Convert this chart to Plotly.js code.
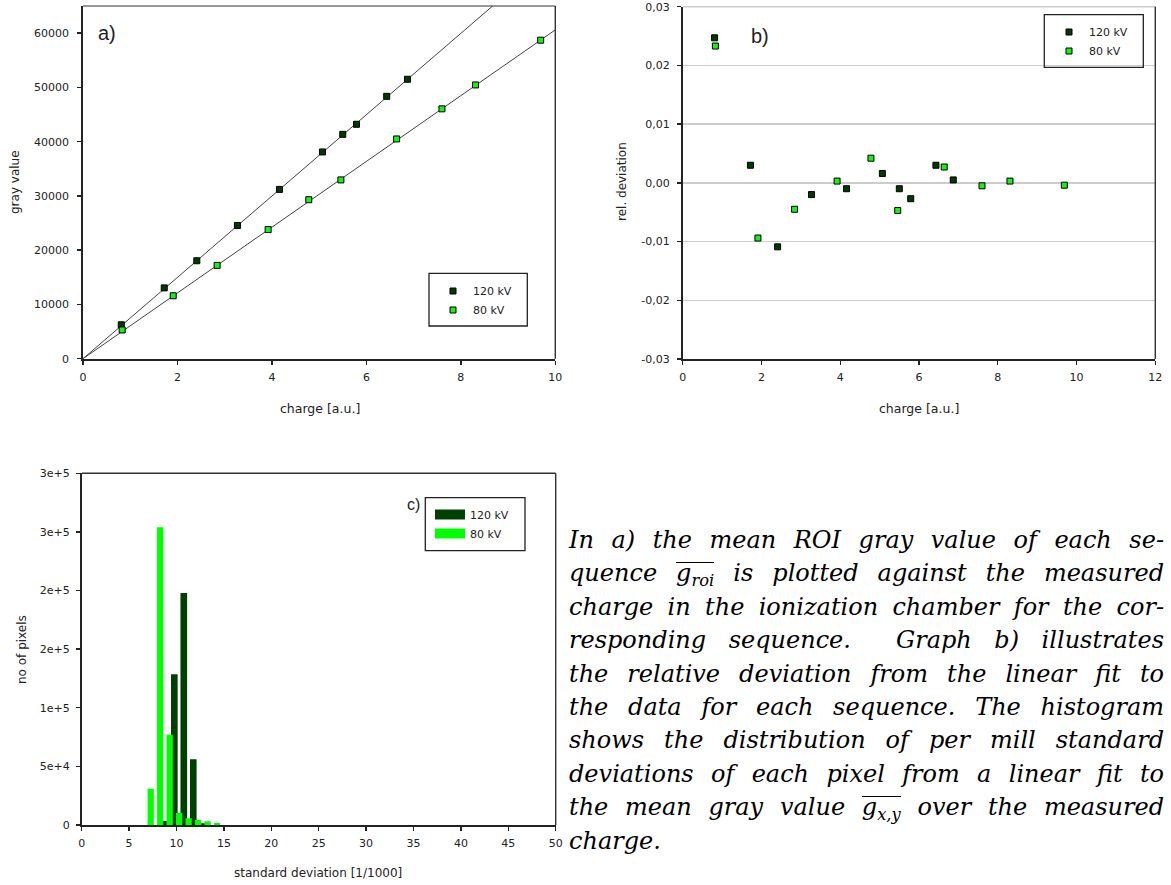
<!DOCTYPE html>
<html>
<head>
<meta charset="utf-8">
<script src="https://cdn.plot.ly/plotly-3.0.1.min.js"></script>
<style>
  html, body { margin: 0; padding: 0; background: #fff; }
  #wrap { position: relative; width: 1171px; height: 885px; }
  #chart { position: absolute; left: 0; top: 0; width: 1171px; height: 885px; }
  #caption {
    position: absolute; left: 569px; top: 524px; width: 595px;
    font-family: "DejaVu Serif", "Liberation Serif", serif;
    font-style: italic; font-size: 24px; line-height: 33.4px; color: #000;
  }
  #caption div { height: 33.4px; text-align: justify; text-align-last: justify; white-space: nowrap; }
  #caption div.last { text-align-last: left; }
  .ov { display: inline-block; line-height: 20px; border-top: 1.4px solid #000; padding-top: 0; }
  .ov sub { font-size: 0.68em; vertical-align: baseline; position: relative; top: 0.3em; line-height: 0; }
</style>
</head>
<body>
<div id="wrap">
  <div id="chart"></div>
  <div id="caption">
    <div>In a) the mean ROI gray value of each se-</div>
    <div>quence <span class="ov">g<sub>roi</sub></span> is plotted against the measured</div>
    <div>charge in the ionization chamber for the cor-</div>
    <div>responding sequence. &nbsp;Graph b) illustrates</div>
    <div>the relative deviation from the linear fit to</div>
    <div>the data for each sequence. The histogram</div>
    <div>shows the distribution of per mill standard</div>
    <div>deviations of each pixel from a linear fit to</div>
    <div>the mean gray value <span class="ov">g<sub>x,y</sub></span> over the measured</div>
    <div class="last">charge.</div>
  </div>
</div>
<script>
// ---- measured mean ROI gray values vs. charge ----
const charge120 = [0.81, 1.72, 2.41, 3.27, 4.16, 5.07, 5.50, 5.79, 6.43, 6.87];
const gray120   = [6250, 13050, 18050, 24550, 31200, 38100, 41350, 43200, 48350, 51500];
const charge80  = [0.83, 1.91, 2.84, 3.92, 4.78, 5.46, 6.64, 7.60, 8.31, 9.69];
const gray80    = [5300, 11600, 17200, 23800, 29300, 32950, 40500, 46050, 50450, 58700];

// slopes of the linear fits through the origin
const fitSlope120 = 7495;
const fitSlope80  = 6060;
const fitRange    = [0, 10];

// ---- relative deviation from the linear fit ----
const relDev120 = [0.0247, 0.0030, -0.0109, -0.0020, -0.0010, 0.0016, -0.0010, -0.0027, 0.0030, 0.0005];
const relDev80  = [0.0233, -0.0094, -0.0045, 0.0003, 0.0042, -0.0047, 0.0027, -0.0005, 0.0003, -0.0004];
const relDevTicks  = [-0.03, -0.02, -0.01, 0, 0.01, 0.02, 0.03];
const relDevLabels = ["-0,03", "-0,02", "-0,01", "0,00", "0,01", "0,02", "0,03"];

// ---- histogram of per-pixel standard deviations [1/1000] ----
const bins120   = [8, 9, 10, 11, 12];
const counts120 = [3400, 128600, 198000, 56000, 1500];
const bins80    = [7, 8, 9, 10, 11, 12, 13, 14];
const counts80  = [31000, 254000, 77000, 10200, 5700, 4300, 3200, 1700];
const pixelTicks  = [0, 50000, 100000, 150000, 200000, 250000, 300000];
const pixelLabels = ["0", "5e+4", "1e+5", "2e+5", "2e+5", "3e+5", "3e+5"];

const seriesNames = ["120 kV", "80 kV"];

// colours
const DARK = "#003a00", LIGHT = "#19f019", BAR_DARK = "#004000", BAR_LIGHT = "#00ff00";
const INK = "#222";

const W = 1171, H = 885;
const px = v => v / W;
const py = v => 1 - v / H;

const tickFont = { family: "DejaVu Sans, sans-serif", size: 11, color: INK };

function axisBase(extra) {
  return Object.assign({
    showline: true, linecolor: INK, linewidth: 1.8,
    ticks: "outside", ticklen: 4, tickwidth: 1.4, tickcolor: INK,
    showgrid: false, zeroline: false, tickfont: tickFont,
    fixedrange: true
  }, extra);
}

const markerStyle = color => ({ symbol: "square", size: 6, color: color, line: { color: "#000", width: 1 } });

const traces = [
  // a) fit lines
  { x: fitRange, y: fitRange.map(c => c * fitSlope120), mode: "lines", xaxis: "x", yaxis: "y",
    line: { color: "#444", width: 1 }, showlegend: false, hoverinfo: "skip" },
  { x: fitRange, y: fitRange.map(c => c * fitSlope80), mode: "lines", xaxis: "x", yaxis: "y",
    line: { color: "#444", width: 1 }, showlegend: false, hoverinfo: "skip" },
  // a) data
  { x: charge120, y: gray120, mode: "markers", name: seriesNames[0], xaxis: "x", yaxis: "y",
    marker: markerStyle(DARK), legend: "legend" },
  { x: charge80, y: gray80, mode: "markers", name: seriesNames[1], xaxis: "x", yaxis: "y",
    marker: markerStyle(LIGHT), legend: "legend" },
  // b) relative deviation
  { x: charge120, y: relDev120, mode: "markers", name: seriesNames[0], xaxis: "x2", yaxis: "y2",
    marker: markerStyle(DARK), legend: "legend2" },
  { x: charge80, y: relDev80, mode: "markers", name: seriesNames[1], xaxis: "x2", yaxis: "y2",
    marker: markerStyle(LIGHT), legend: "legend2" },
  // c) histogram bars (80 kV drawn on top)
  { type: "bar", x: bins120, y: counts120, xaxis: "x3", yaxis: "y3", offset: 0.42, width: 0.7,
    marker: { color: BAR_DARK, line: { width: 0 } }, showlegend: false, hoverinfo: "skip" },
  { type: "bar", x: bins80, y: counts80, xaxis: "x3", yaxis: "y3", offset: -0.05, width: 0.66,
    marker: { color: BAR_LIGHT, line: { width: 0 } }, showlegend: false, hoverinfo: "skip" },
  // c) legend swatches
  { x: [null], y: [null], mode: "lines", name: seriesNames[0], xaxis: "x3", yaxis: "y3",
    line: { color: BAR_DARK, width: 11 }, legend: "legend3" },
  { x: [null], y: [null], mode: "lines", name: seriesNames[1], xaxis: "x3", yaxis: "y3",
    line: { color: BAR_LIGHT, width: 11 }, legend: "legend3" }
];

const borderLine = (xr, yr, x0, y0, x1, y1, color, width) => ({
  type: "line", xref: xr, yref: yr, x0: x0, y0: y0, x1: x1, y1: y1,
  line: { color: color, width: width }, layer: "above"
});

const legendBox = (x0, y0, x1, y1) => ({
  type: "rect", xref: "paper", yref: "paper", x0: px(x0), x1: px(x1), y0: py(y1), y1: py(y0),
  line: { color: INK, width: 1.3 }, fillcolor: "rgba(0,0,0,0)", layer: "above"
});

const legendCommon = {
  bgcolor: "rgba(0,0,0,0)", borderwidth: 0, font: tickFont,
  xanchor: "left", yanchor: "top", traceorder: "normal", tracegroupgap: 0
};

const annot = (text, x, y, size, angle, family) => ({
  text: text, xref: "paper", yref: "paper", x: px(x), y: py(y),
  xanchor: "center", yanchor: "middle", showarrow: false, textangle: angle || 0,
  font: { family: family || "DejaVu Sans, sans-serif", size: size, color: INK }
});

const layout = {
  width: W, height: H,
  margin: { l: 0, r: 0, t: 0, b: 0 },
  paper_bgcolor: "#fff", plot_bgcolor: "#fff",
  barmode: "overlay",
  showlegend: true,
  xaxis: axisBase({ domain: [px(83), px(555.3)], range: [0, 10], dtick: 2, anchor: "y", ticklabelstandoff: 3 }),
  yaxis: axisBase({ domain: [py(358.7), py(6)], range: [0, 65000], dtick: 10000, tickformat: "d", anchor: "x",
    ticklabelstandoff: 6 }),
  xaxis2: axisBase({ domain: [px(682.7), px(1155.3)], range: [0, 12], dtick: 2, anchor: "y2", ticklabelstandoff: 3 }),
  yaxis2: axisBase({ domain: [py(359), py(6.7)], range: [-0.03, 0.03], anchor: "x2",
    tickvals: relDevTicks, ticktext: relDevLabels, ticklabelstandoff: 5,
    showgrid: true, gridcolor: "#cccccc", gridwidth: 1.5 }),
  xaxis3: axisBase({ domain: [px(81.7), px(555.7)], range: [0, 50], dtick: 5, anchor: "y3", ticklabelstandoff: 3 }),
  yaxis3: axisBase({ domain: [py(825), py(473.3)], range: [0, 300000], anchor: "x3",
    tickvals: pixelTicks, ticktext: pixelLabels, ticklabelstandoff: 4 }),
  legend:  Object.assign({ x: px(433), y: py(276.5) }, legendCommon),
  legend2: Object.assign({ x: px(1049), y: py(17.5) }, legendCommon),
  legend3: Object.assign({ x: px(430), y: py(500) }, legendCommon),
  shapes: [
    // frame of a)
    borderLine("x domain", "y domain", 0, 1, 1, 1, "#333", 1.2),
    borderLine("x domain", "y domain", 1, 0, 1, 1, "#333", 1.4),
    // frame of b)
    borderLine("x2 domain", "y2 domain", 0, 1, 1, 1, "#cccccc", 1.5),
    borderLine("x2 domain", "y2 domain", 1, 0, 1, 1, "#333", 1.4),
    // frame of c)
    borderLine("x3 domain", "y3 domain", 0, 1, 1, 1, "#333", 1.4),
    borderLine("x3 domain", "y3 domain", 1, 0, 1, 1, "#333", 1.4),
    // legend boxes
    legendBox(429, 273.3, 527.3, 326),
    legendBox(1044.3, 14.7, 1143.3, 67.3),
    legendBox(425.3, 497.7, 525, 550.7)
  ],
  annotations: [
    annot("gray value", 15, 182, 12, -90),
    annot("charge [a.u.]", 320, 408, 12.5),
    annot("rel. deviation", 622, 182, 12, -90),
    annot("charge [a.u.]", 919, 408, 12.5),
    annot("no of pixels", 22, 649, 12, -90),
    annot("standard deviation [1/1000]", 318, 873, 12),
    annot("a)", 106.7, 33, 20, 0, "Liberation Sans, sans-serif"),
    annot("b)", 759.5, 35.5, 20, 0, "Liberation Sans, sans-serif"),
    annot("c)", 413, 504, 16, 0, "Liberation Sans, sans-serif")
  ]
};

Plotly.newPlot("chart", traces, layout, { displayModeBar: false, staticPlot: true });
</script>
</body>
</html>
